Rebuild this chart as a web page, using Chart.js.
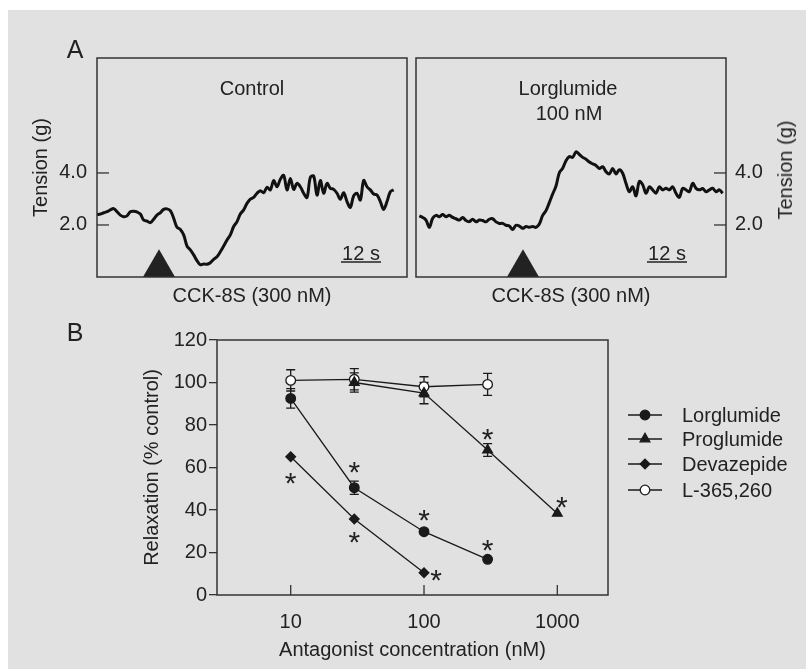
<!DOCTYPE html>
<html>
<head>
<meta charset="utf-8">
<script src="https://cdn.jsdelivr.net/npm/chart.js@4.4.0/dist/chart.umd.min.js"></script>
<style>
  body { margin: 0; width: 806px; height: 669px; overflow: hidden; background: #fff;
         font-family: "Liberation Sans", Arial, Helvetica, sans-serif; color: #222; }
  #bg { position: absolute; left: 8px; top: 10px; width: 798px; height: 659px; background: #e1e1e1; }
  canvas { position: absolute; }
  .lbl { position: absolute; font-size: 20px; line-height: 24px; white-space: nowrap;
         transform: translate(-50%, -50%); }
  .big { font-size: 25px; line-height: 30px; }
</style>
</head>
<body>
<div id="bg"></div>
<canvas id="controlChart" width="412" height="320" style="left:0;top:0"></canvas>
<canvas id="lorgChart" width="394" height="320" style="left:412px;top:0"></canvas>
<canvas id="doseChart" width="806" height="349" style="left:0;top:320px"></canvas>

<div class="lbl big" style="left:75px;top:49px">A</div>
<div class="lbl big" style="left:75px;top:332px">B</div>
<div class="lbl" style="left:252px;top:88px">Control</div>
<div class="lbl" style="left:568px;top:88px">Lorglumide</div>
<div class="lbl" style="left:569px;top:113px">100 nM</div>
<div class="lbl" style="left:361px;top:253px">12 s</div>
<div class="lbl" style="left:667px;top:253px">12 s</div>
<div class="lbl" style="left:785px;top:170px;transform:translate(-50%,-50%) rotate(-90deg)">Tension (g)</div>

<script>
  // ---- Panel A: tension traces, one sample per second (g) ----
  const controlStart = 0;
  const controlTension = [
    2.40, 2.42, 2.47, 2.51, 2.58, 2.63, 2.51, 2.38, 2.32, 2.35,
    2.51, 2.53, 2.50, 2.42, 2.19, 2.15, 2.09, 2.22, 2.38, 2.47,
    2.60, 2.62, 2.55, 2.26, 1.91, 1.83, 1.62, 1.19, 1.04, 0.85,
    0.63, 0.47, 0.50, 0.49, 0.55, 0.68, 0.78, 0.97, 1.19, 1.42,
    1.62, 1.94, 2.13, 2.42, 2.58, 2.83, 2.99, 3.06, 3.22, 3.32,
    3.24, 3.45, 3.35, 3.71, 3.47, 3.76, 3.91, 3.35, 3.79, 3.37,
    3.60, 3.47, 3.22, 3.06, 3.83, 3.88, 3.15, 3.71, 3.22, 3.60,
    3.41, 3.37, 3.22, 2.99, 3.24, 2.90, 2.68, 3.12, 3.22, 2.96,
    3.71, 3.47, 3.35, 3.19, 3.15, 2.90, 2.60, 2.90, 3.28, 3.35
  ];
  const lorgStart = 1;
  const lorgTension = [
    2.35, 2.29, 2.19, 1.91, 2.26, 2.37, 2.32, 2.40, 2.32, 2.37,
    2.29, 2.24, 2.19, 2.29, 2.17, 2.13, 2.22, 2.12, 2.19, 2.17,
    2.12, 2.22, 2.24, 2.12, 2.06, 2.06, 1.99, 1.96, 1.83, 1.99,
    1.96, 1.87, 1.94, 1.91, 1.94, 1.91, 2.04, 2.37, 2.55, 2.86,
    3.19, 3.50, 4.01, 4.18, 4.47, 4.63, 4.60, 4.81, 4.71, 4.60,
    4.53, 4.42, 4.35, 4.29, 4.17, 4.24, 4.05, 3.96, 4.17, 3.96,
    4.12, 3.99, 3.60, 3.28, 3.47, 3.12, 3.67, 3.55, 3.22, 3.47,
    3.35, 3.22, 3.47, 3.35, 3.41, 3.35, 3.47, 3.22, 3.06, 3.41,
    3.35, 3.28, 3.60, 3.41, 3.35, 3.40, 3.28, 3.35, 3.41, 3.28,
    3.35, 3.22
  ];
  const tensionTicks = [2, 4];
  const timeRange = [0, 93];
  const tensionRange = [0, 8.42];
  // CCK-8S application (triangle) and 12 s scale bar
  const controlStim = { x: 18.6, y: 0.355 };
  const lorgStim = { x: 32.1, y: 0.355 };
  const controlBar = [73.2, 85.2];
  const lorgBar = [69.3, 81.3];
  const barLevel = 0.58;

  // ---- Panel B: concentration-response ----
  const seriesNames = ["Lorglumide", "Proglumide", "Devazepide", "L-365,260"];
  const lorgConc = [10, 30, 100, 300];
  const lorgMean = [92.5, 50.5, 29.8, 16.8];
  const lorgSem = [4.6, 3.1, 0, 0];
  const progConc = [30, 100, 300, 1000];
  const progMean = [100, 95, 68.2, 38.4];
  const progSem = [4.5, 5, 3, 0];
  const devaConc = [10, 30, 100];
  const devaMean = [65.1, 35.8, 10.5];
  const devaSem = [0, 0, 0];
  const lConc = [10, 30, 100, 300];
  const lMean = [101, 101.5, 98, 99.1];
  const lSem = [5, 5, 4.7, 5.2];
  const starConc = [10, 30, 30, 100, 123, 300, 300, 1080];
  const starLevel = [54.6, 59.9, 27.1, 37.6, 9.4, 23.5, 75.6, 43.6];
  const concTicks = [10, 100, 1000];

  Chart.defaults.font.family = "'Liberation Sans', Arial, Helvetica, sans-serif";
  Chart.defaults.font.size = 20;
  Chart.defaults.color = "#222";
  Chart.defaults.animation = false;
  Chart.defaults.plugins.legend.display = false;
  Chart.defaults.plugins.tooltip.enabled = false;

  const ink = "#1a1a1a";

  // box around the plot plus inward tick marks
  const framePlugin = {
    id: "frame",
    afterDatasetsDraw(chart, args, opts) {
      const { ctx, chartArea: a } = chart;
      ctx.save();
      ctx.strokeStyle = "#333";
      ctx.lineWidth = 1.5;
      ctx.strokeRect(a.left, a.top, a.right - a.left, a.bottom - a.top);
      ctx.lineWidth = 1.3;
      const ys = chart.scales.y;
      if (opts.yLen) {
        ys.ticks.forEach((t) => {
          const y = ys.getPixelForValue(t.value);
          const x0 = ys.position === "right" ? a.right : a.left;
          const x1 = ys.position === "right" ? a.right - opts.yLen : a.left + opts.yLen;
          ctx.beginPath(); ctx.moveTo(x0, y); ctx.lineTo(x1, y); ctx.stroke();
        });
      }
      const xs = chart.scales.x;
      if (opts.xLen) {
        xs.ticks.forEach((t) => {
          const x = xs.getPixelForValue(t.value);
          ctx.beginPath(); ctx.moveTo(x, a.bottom); ctx.lineTo(x, a.bottom - opts.xLen); ctx.stroke();
        });
      }
      ctx.restore();
    },
  };

  function traceChart(id, start, values, stim, bar, side) {
    const right = side === "right";
    return new Chart(document.getElementById(id), {
      type: "scatter",
      data: {
        datasets: [
          {
            data: values.map((v, i) => ({ x: start + i, y: v })),
            showLine: true,
            borderColor: "#111",
            borderWidth: 3,
            tension: 0.35,
            pointRadius: 0,
          },
          {
            data: [stim],
            pointStyle: "triangle",
            pointRadius: 18.5,
            pointBackgroundColor: "#222",
            pointBorderWidth: 0,
            clip: false,
          },
          {
            data: bar.map((x) => ({ x: x, y: barLevel })),
            showLine: true,
            borderColor: "#222",
            borderWidth: 1.5,
            pointRadius: 0,
          },
        ],
      },
      options: {
        responsive: false,
        layout: {
          autoPadding: false,
          padding: right ? { left: 4, top: 58, right: 0, bottom: 0 } : { left: 0, top: 58, right: 5, bottom: 0 },
        },
        scales: {
          x: {
            type: "linear",
            min: timeRange[0],
            max: timeRange[1],
            afterFit: (s) => { s.height = 43; },
            grid: { display: false, drawTicks: false },
            border: { display: false },
            ticks: { display: false },
            title: { display: true, text: "CCK-8S (300 nM)", padding: { top: 0, bottom: 12 } },
          },
          y: {
            position: side,
            min: tensionRange[0],
            max: tensionRange[1],
            afterBuildTicks: (s) => { s.ticks = tensionTicks.map((v) => ({ value: v })); },
            afterFit: (s) => { s.width = right ? 80 : 97; },
            grid: { display: false, drawTicks: false },
            border: { display: false },
            ticks: { padding: right ? 9 : 10, callback: (v) => Number(v).toFixed(1) },
            title: { display: !right, text: "Tension (g)", padding: { top: 29, bottom: 0 } },
          },
        },
        plugins: { frame: { yLen: 12, xLen: 0 } },
      },
      plugins: [framePlugin],
    });
  }

  traceChart("controlChart", controlStart, controlTension, controlStim, controlBar, "left");
  traceChart("lorgChart", lorgStart, lorgTension, lorgStim, lorgBar, "right");

  // ---- Panel B ----
  const pts = (xs, ys) => xs.map((x, i) => ({ x: x, y: ys[i] }));
  const semSets = [lorgSem, progSem, devaSem, lSem];

  const doseExtras = {
    id: "doseExtras",
    beforeDatasetsDraw(chart) {
      const { ctx, scales } = chart;
      ctx.save();
      ctx.strokeStyle = ink;
      ctx.lineWidth = 1.3;
      chart.data.datasets.forEach((ds, k) => {
        ds.data.forEach((p, i) => {
          const e = semSets[k][i];
          if (!e) return;
          const x = scales.x.getPixelForValue(p.x);
          const y1 = scales.y.getPixelForValue(p.y + e);
          const y2 = scales.y.getPixelForValue(p.y - e);
          ctx.beginPath();
          ctx.moveTo(x, y1); ctx.lineTo(x, y2);
          ctx.moveTo(x - 4.5, y1); ctx.lineTo(x + 4.5, y1);
          ctx.moveTo(x - 4.5, y2); ctx.lineTo(x + 4.5, y2);
          ctx.stroke();
        });
      });
      ctx.restore();
    },
    afterDraw(chart) {
      const { ctx, scales } = chart;
      ctx.save();
      // significance asterisks
      ctx.fillStyle = "#222";
      ctx.font = "30px 'Liberation Sans', Arial, sans-serif";
      ctx.textAlign = "center";
      ctx.textBaseline = "alphabetic";
      const m = ctx.measureText("*");
      const dy = (m.actualBoundingBoxAscent - m.actualBoundingBoxDescent) / 2;
      starConc.forEach((c, i) => {
        const x = scales.x.getPixelForValue(c);
        const y = scales.y.getPixelForValue(starLevel[i]);
        ctx.fillText("*", x, y + dy);
      });
      // legend: line with marker
      const rows = [95, 119, 144, 170];
      ctx.font = "20px 'Liberation Sans', Arial, sans-serif";
      ctx.textAlign = "left";
      ctx.textBaseline = "middle";
      chart.data.datasets.forEach((ds, k) => {
        const y = rows[k];
        ctx.strokeStyle = ink;
        ctx.lineWidth = 1.3;
        ctx.beginPath(); ctx.moveTo(628, y); ctx.lineTo(662, y); ctx.stroke();
        ctx.fillStyle = ds.pointBackgroundColor;
        ctx.lineWidth = ds.pointBorderWidth;
        Chart.helpers.drawPoint(ctx, { pointStyle: ds.pointStyle, radius: ds.pointRadius, rotation: 0, borderWidth: ds.pointBorderWidth }, 645, y);
        ctx.fillStyle = "#222";
        ctx.fillText(ds.label, 682, y + 1);
      });
      ctx.restore();
    },
  };

  function series(label, data, style, radius, fill) {
    return {
      label: label,
      data: data,
      showLine: true,
      borderColor: ink,
      borderWidth: 1.3,
      pointStyle: style,
      pointRadius: radius,
      pointBackgroundColor: fill,
      pointBorderColor: ink,
      pointBorderWidth: 1.3,
    };
  }

  new Chart(document.getElementById("doseChart"), {
    type: "scatter",
    data: {
      datasets: [
        series(seriesNames[0], pts(lorgConc, lorgMean), "circle", 4.8, ink),
        series(seriesNames[1], pts(progConc, progMean), "triangle", 5.6, ink),
        series(seriesNames[2], pts(devaConc, devaMean), "rectRot", 4.8, ink),
        series(seriesNames[3], pts(lConc, lMean), "circle", 4.8, "#fff"),
      ],
    },
    options: {
      responsive: false,
      layout: { autoPadding: false, padding: { left: 0, top: 20, right: 198, bottom: 0 } },
      scales: {
        x: {
          type: "logarithmic",
          min: 2.8,
          max: 2400,
          afterBuildTicks: (s) => { s.ticks = concTicks.map((v) => ({ value: v })); },
          afterFit: (s) => { s.height = 74; },
          grid: { display: false, drawTicks: false },
          border: { display: false },
          ticks: { padding: 15, callback: (v) => String(v) },
          title: { display: true, text: "Antagonist concentration (nM)", padding: { top: 0, bottom: 7 } },
        },
        y: {
          min: 0,
          max: 120,
          ticks: { stepSize: 20, padding: 2 },
          afterFit: (s) => { s.width = 217; },
          grid: { drawOnChartArea: false, drawTicks: true, tickLength: 8, color: "#333", lineWidth: 1.3 },
          border: { display: false },
          title: { display: true, text: "Relaxation (% control)", padding: { top: 140, bottom: 0 } },
        },
      },
      plugins: { frame: { yLen: 0, xLen: 10 } },
    },
    plugins: [framePlugin, doseExtras],
  });
</script>
</body>
</html>
